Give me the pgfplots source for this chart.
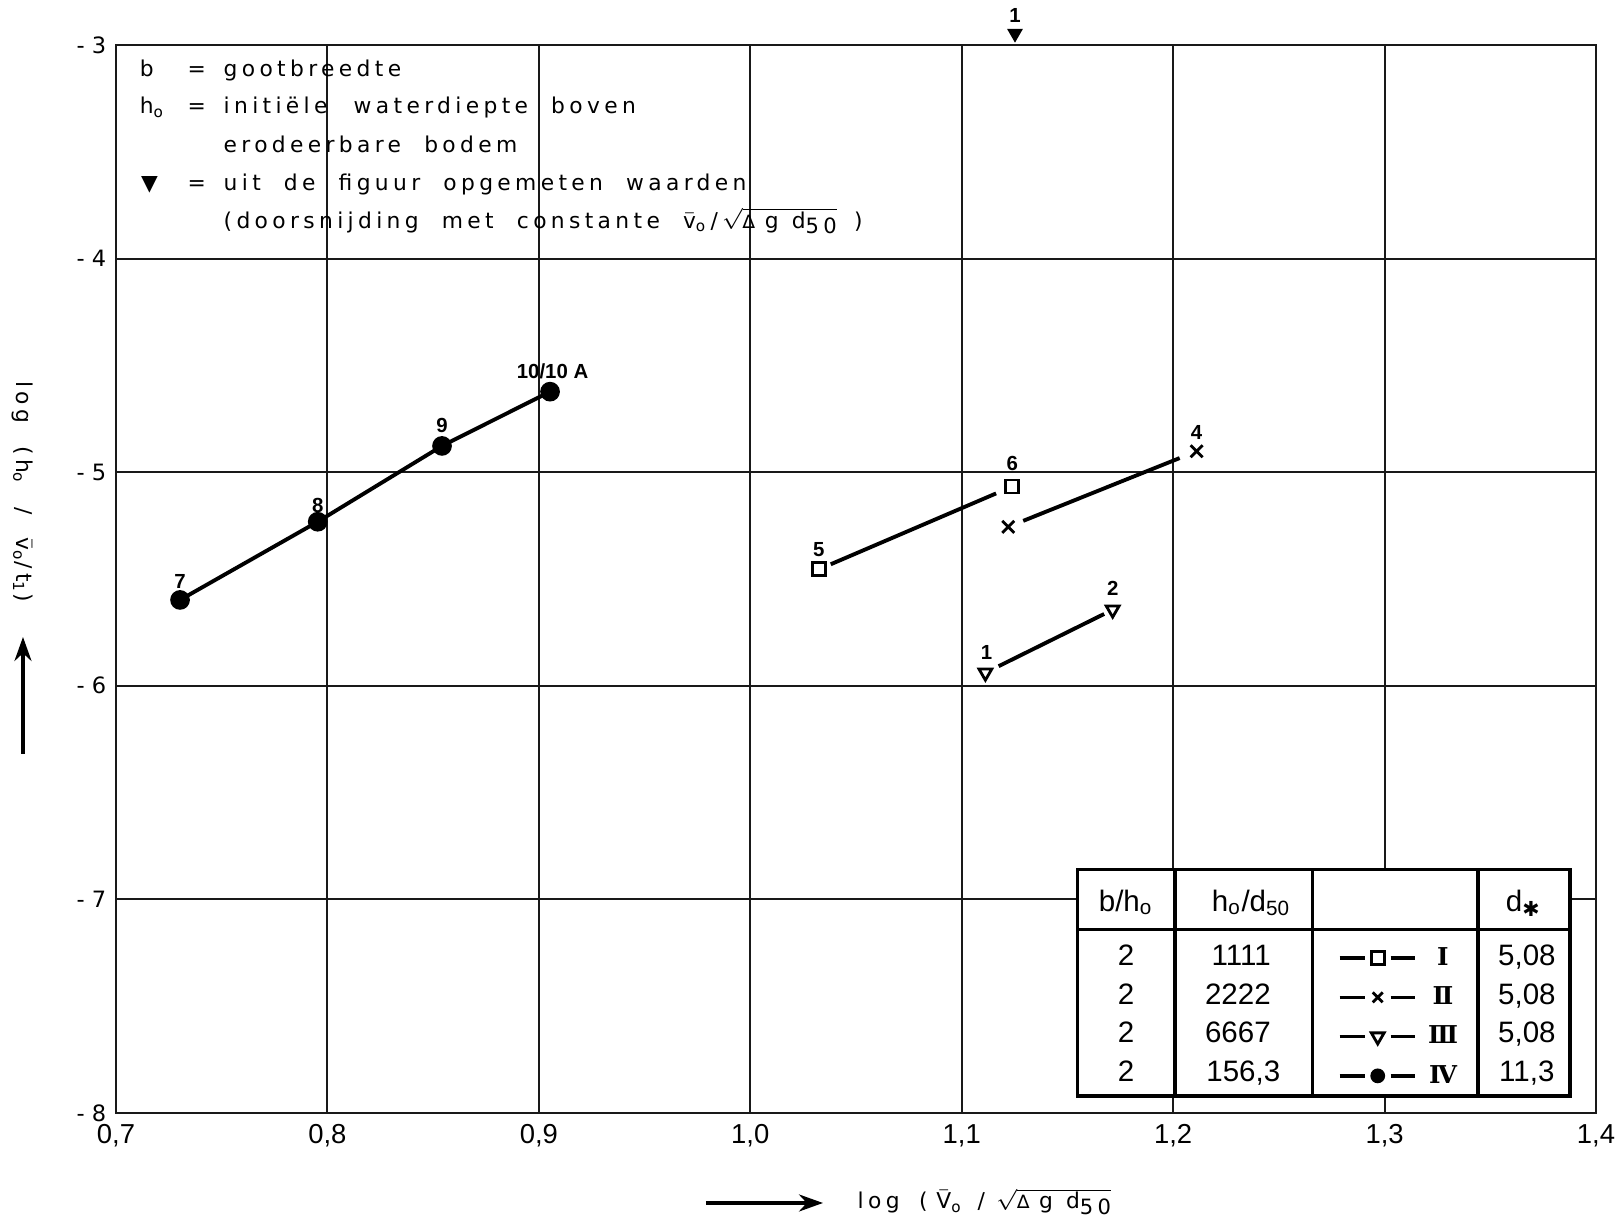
\documentclass[border=0pt]{standalone}
\usepackage{fontspec}
\usepackage{pgfplots}
\pgfplotsset{compat=1.18}
\usetikzlibrary{arrows.meta}
\setmainfont{Liberation Sans}
\newfontfamily\lettering[LetterSpace=20, WordSpace=2.05]{DejaVu Sans}
\newfontfamily\symbolfont{DejaVu Sans}
\newfontfamily\numeralfont{DejaVu Serif}

\newcommand{\sub}[1]{\textsubscript{#1}}
\newcommand{\vbar}{\ensuremath{\bar{\mbox{v}}}}
\newcommand{\Vbar}{\ensuremath{\bar{\mbox{V}}}}
% square root of (Delta g d50), lettered with wide spacing
\newcommand{\dgroot}{\ensuremath{\sqrt{\smash{\mbox{%
  \scalebox{0.85}{\symbolfont ∆}\hspace{0.45em}g\hspace{0.6em}d%
  \raisebox{-0.45ex}{\fontsize{6}{6}\selectfont 50}}}\vphantom{d}}}}
\newcommand{\lettersize}{\lettering\fontsize{6.2}{7.4}\selectfont}
\newcommand{\tablesize}{\fontsize{8.4}{9.5}\selectfont}

\pgfplotsset{
  seglegend/.style={legend image code/.code={%
      \draw[line width=1pt, mark=none, solid]
        (0mm,0mm) -- (2.5mm,0mm) (5.1mm,0mm) -- (7.5mm,0mm);
      \draw[mark size=#1] plot coordinates {(3.8mm,0mm)};
  }},
}

\begin{document}
\begin{tikzpicture}
\begin{axis}[
  scale only axis,
  width=148mm, height=106.8mm,
  xmin=0.7, xmax=1.4, ymin=-8, ymax=-3,
  xtick={0.7,0.8,0.9,1.0,1.1,1.2,1.3,1.4},
  ytick={-8,-7,-6,-5,-4,-3},
  xticklabels={{0,7},{0,8},{0,9},{1,0},{1,1},{1,2},{1,3},{1,4}},
  yticklabels={- 8,- 7,- 6,- 5,- 4,- 3},
  xticklabel style={font=\fontsize{7.8}{9}\selectfont, anchor=north, inner sep=0pt, yshift=-3.1pt},
  yticklabel style={font=\symbolfont\fontsize{6.4}{7.6}\selectfont, anchor=east, inner sep=0pt, xshift=-2.6pt},
  major tick length=0pt,
  grid=major,
  major grid style={line width=0.55pt, black!90},
  axis line style={line width=0.8pt, black!90},
  clip=false,
  legend style={at={(axis cs:1.27796,-7.2154)}, anchor=north west,
    draw=none, fill=none, inner sep=0pt, outer sep=0pt,
    nodes={inner sep=0pt, outer sep=0pt},
    row sep=1.4mm, column sep=0.65mm,
    font=\numeralfont\bfseries\fontsize{7}{8}\selectfont},
]

% series I: squares
\addplot[forget plot, line width=1.1pt, shorten <=3.7pt, shorten >=5pt]
  coordinates {(1.0324,-5.455) (1.1239,-5.067)};
\addplot[only marks, seglegend=1.85pt, mark=square, mark size=1.85pt,
  mark options={line width=0.8pt, solid}]
  coordinates {(1.0324,-5.455) (1.1239,-5.067)};
\addlegendentry{\rule{0pt}{2mm}\makebox[4mm]{Ⅰ}}

% series II: crosses
\addplot[forget plot, line width=1.1pt, shorten <=4.6pt, shorten >=5.2pt]
  coordinates {(1.1220,-5.256) (1.2111,-4.902)};
\addplot[only marks, seglegend=2pt, mark=x, mark size=2.4pt,
  mark options={line width=0.8pt, solid}]
  coordinates {(1.1220,-5.256) (1.2111,-4.902)};
\addlegendentry{\rule{0pt}{2mm}\makebox[4mm]{Ⅱ}}

% series III: open triangles pointing down
\addplot[forget plot, line width=1.1pt, shorten <=4.2pt, shorten >=2.7pt]
  coordinates {(1.1112,-5.939) (1.1714,-5.644)};
\addplot[only marks, seglegend=2.1pt, mark=triangle, mark size=2.1pt,
  mark options={line width=0.8pt, solid, rotate=180}]
  coordinates {(1.1112,-5.939) (1.1714,-5.644)};
\addlegendentry{\rule{0pt}{2mm}\makebox[4mm]{Ⅲ}}

% series IV: filled circles
\addplot[line width=1.1pt, seglegend=1.9pt, mark=*, mark size=2.6pt,
  mark options={fill=black, line width=0.4pt, solid}]
  coordinates {(0.7303,-5.598) (0.7954,-5.232) (0.8542,-4.877) (0.9053,-4.623)};
\addlegendentry{\rule{0pt}{2mm}\makebox[4mm]{Ⅳ}}

% value, marked above the frame
\addplot[forget plot, only marks, mark=triangle*, mark size=2.2pt,
  mark options={fill=black, rotate=180}]
  coordinates {(1.1252,-2.9462)};

% point numbers
\begin{scope}[every node/.style={font=\bfseries\fontsize{5.8}{7}\selectfont, inner sep=0pt}]
  \node at (axis cs:0.7303,-5.514) {7};
  \node at (axis cs:0.7954,-5.1536) {8};
  \node at (axis cs:0.8542,-4.781) {9};
  \node at (axis cs:0.9065,-4.5295) {10/10 A};
  \node at (axis cs:1.0324,-5.3642) {5};
  \node at (axis cs:1.1239,-4.957) {6};
  \node at (axis cs:1.2111,-4.8118) {4};
  \node at (axis cs:1.1714,-5.5421) {2};
  \node at (axis cs:1.1117,-5.8464) {1};
  \node at (axis cs:1.1252,-2.8596) {1};
\end{scope}

% notation block
\begin{scope}[every node/.style={font=\lettersize, inner sep=0pt, anchor=base west}]
  \node at (axis cs:0.7109,-3.1484) {b};
  \node at (axis cs:0.7109,-3.3230) {h\sub{o}};
  \node at (axis cs:0.7115,-3.6810) {{\symbolfont ▼}};
  \node[anchor=base] at (axis cs:0.7382,-3.1484) {=};
  \node[anchor=base] at (axis cs:0.7382,-3.3230) {=};
  \node[anchor=base] at (axis cs:0.7382,-3.6810) {=};
  \node at (axis cs:0.7506,-3.1484) {gootbreedte};
  \node at (axis cs:0.7506,-3.3230) {initiële\hspace{1.2em}waterdiepte boven};
  \node at (axis cs:0.7506,-3.5020) {erodeerbare bodem};
  \node at (axis cs:0.7506,-3.6810) {uit de figuur opgemeten waarden};
  \node at (axis cs:0.7506,-3.8570) {(doorsnijding met constante \vbar\sub{o}\,/\,\dgroot\hspace{0.8em})};
\end{scope}

% parameter table
\draw[fill=white, line width=1pt] (axis cs:1.15477,-6.8600) rectangle (axis cs:1.38778,-7.9213);
\draw[line width=1pt] (axis cs:1.15477,-7.1409) -- (axis cs:1.38778,-7.1409);
\draw[line width=1pt] (axis cs:1.20077,-6.8600) -- (axis cs:1.20077,-7.9213);
\draw[line width=1pt] (axis cs:1.26590,-6.8600) -- (axis cs:1.26590,-7.9213);
\draw[line width=1pt] (axis cs:1.34418,-6.8600) -- (axis cs:1.34418,-7.9213);
\begin{scope}[every node/.style={font=\tablesize, inner sep=0pt, text depth=0pt}]
  \node at (axis cs:1.1777,-7.005) {b/h\sub{o}};
  \node at (axis cs:1.2370,-7.005) {h\sub{o}/d\sub{50}};
  \node at (axis cs:1.3658,-7.005) {d\sub{\symbolfont ✱}};
  \node at (axis cs:1.1777,-7.2622) {2};
  \node at (axis cs:1.1777,-7.4415) {2};
  \node at (axis cs:1.1777,-7.6208) {2};
  \node at (axis cs:1.1777,-7.8048) {2};
  \node[anchor=east] at (axis cs:1.2465,-7.2622) {1111};
  \node[anchor=east] at (axis cs:1.2465,-7.4415) {2222};
  \node[anchor=east] at (axis cs:1.2465,-7.6208) {6667};
  \node[anchor=east] at (axis cs:1.2510,-7.8048) {156,3};
  \node at (axis cs:1.3673,-7.2622) {5,08};
  \node at (axis cs:1.3673,-7.4415) {5,08};
  \node at (axis cs:1.3673,-7.6208) {5,08};
  \node at (axis cs:1.3673,-7.8048) {11,3};
\end{scope}

% axis titles
\draw[-{Stealth[length=2.4mm,width=1.7mm]}, line width=1pt]
  (axis cs:0.97905,-8.4213) -- (axis cs:1.03439,-8.4213);
\node[anchor=west, inner sep=0pt, font=\lettersize] at (axis cs:1.05047,-8.412)
  {log\hspace{0.9em}(\hspace{0.4em}\Vbar\sub{o}\hspace{0.7em}/\hspace{0.5em}\dgroot};
\draw[-{Stealth[length=2.4mm,width=1.7mm]}, line width=1pt]
  (axis cs:0.65601,-6.3193) -- (axis cs:0.65601,-5.7715);
\node[rotate=-90, inner sep=0pt, font=\lettersize] at (axis cs:0.65601,-5.090)
  {log (h\sub{o} / \vbar\sub{o}/t\sub{1})};

\coordinate (SW) at (rel axis cs:0,0);
\end{axis}
\pgfresetboundingbox
\path[use as bounding box] (SW) ++(-11.6mm,-10.9mm) rectangle ++(162.3mm,122.2mm);
\end{tikzpicture}
\end{document}
